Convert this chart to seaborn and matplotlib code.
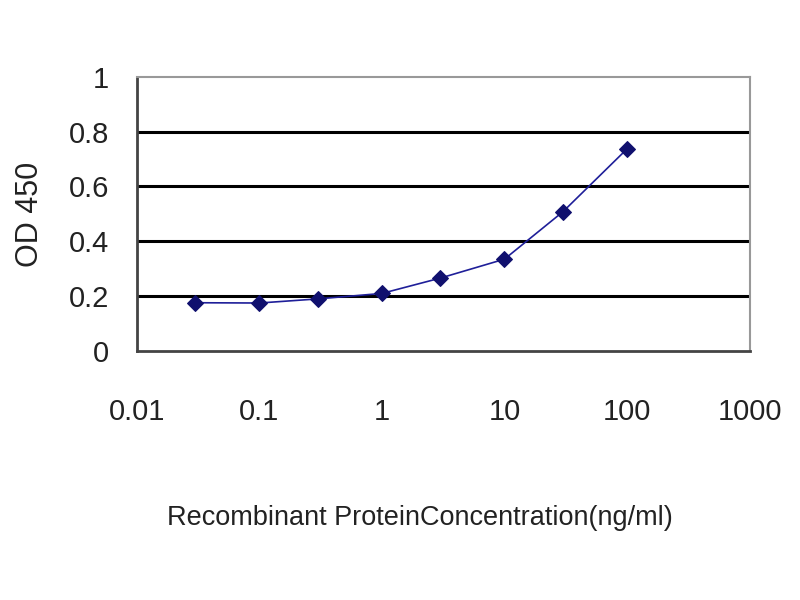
import matplotlib
matplotlib.use("Agg")
import matplotlib.pyplot as plt
import seaborn as sns
import pandas as pd
from matplotlib.ticker import FixedLocator, FixedFormatter

# values
concentration = [0.03, 0.1, 0.3, 1, 3, 10, 30, 100]
od450 = [0.176, 0.175, 0.19, 0.21, 0.266, 0.335, 0.508, 0.737]
x_ticks = [0.01, 0.1, 1, 10, 100, 1000]
x_tick_labels = ["0.01", "0.1", "1", "10", "100", "1000"]
y_ticks = [0, 0.2, 0.4, 0.6, 0.8, 1]
y_tick_labels = ["0", "0.2", "0.4", "0.6", "0.8", "1"]

df = pd.DataFrame({"conc": concentration, "od": od450})

sns.set_style("white")
plt.rcParams["font.family"] = ["Liberation Sans", "DejaVu Sans"]

fig = plt.figure(figsize=(8, 6), dpi=100)
ax = fig.add_axes([0.171, 0.415, 0.766, 0.457])

# black horizontal gridlines
for v in y_ticks[1:-1]:
    ax.axhline(v, color="black", lw=2.2, zorder=1)

sns.lineplot(data=df, x="conc", y="od", ax=ax, color="#1f1f99", lw=1.2,
             marker="D", markersize=8, markeredgecolor="#10106e",
             markerfacecolor="#10106e", zorder=3)

ax.set_xscale("log")
ax.set_xlim(0.01, 1000)
ax.set_ylim(0, 1)
ax.xaxis.set_major_locator(FixedLocator(x_ticks))
ax.xaxis.set_major_formatter(FixedFormatter(x_tick_labels))
ax.xaxis.set_minor_locator(FixedLocator([]))
ax.yaxis.set_major_locator(FixedLocator(y_ticks))
ax.yaxis.set_major_formatter(FixedFormatter(y_tick_labels))

for s in ["left", "bottom"]:
    ax.spines[s].set_color("#444444")
    ax.spines[s].set_linewidth(2)
for s in ["top", "right"]:
    ax.spines[s].set_color("#999999")
    ax.spines[s].set_linewidth(1.5)

ax.tick_params(axis="x", direction="in", length=5, width=1.5, pad=34,
               labelsize=21, colors="#222222")
ax.tick_params(axis="y", direction="in", length=5, width=1.5, pad=20,
               labelsize=21, colors="#222222")

ax.set_xlabel("Recombinant ProteinConcentration(ng/ml)", fontsize=19.5,
              color="#222222", va="center")
ax.xaxis.set_label_coords(0.462, -0.61)
ax.set_ylabel("OD 450", fontsize=22, color="#222222", va="center")
ax.yaxis.set_label_coords(-0.175, 0.5)

fig.savefig("out.png", dpi=100)
